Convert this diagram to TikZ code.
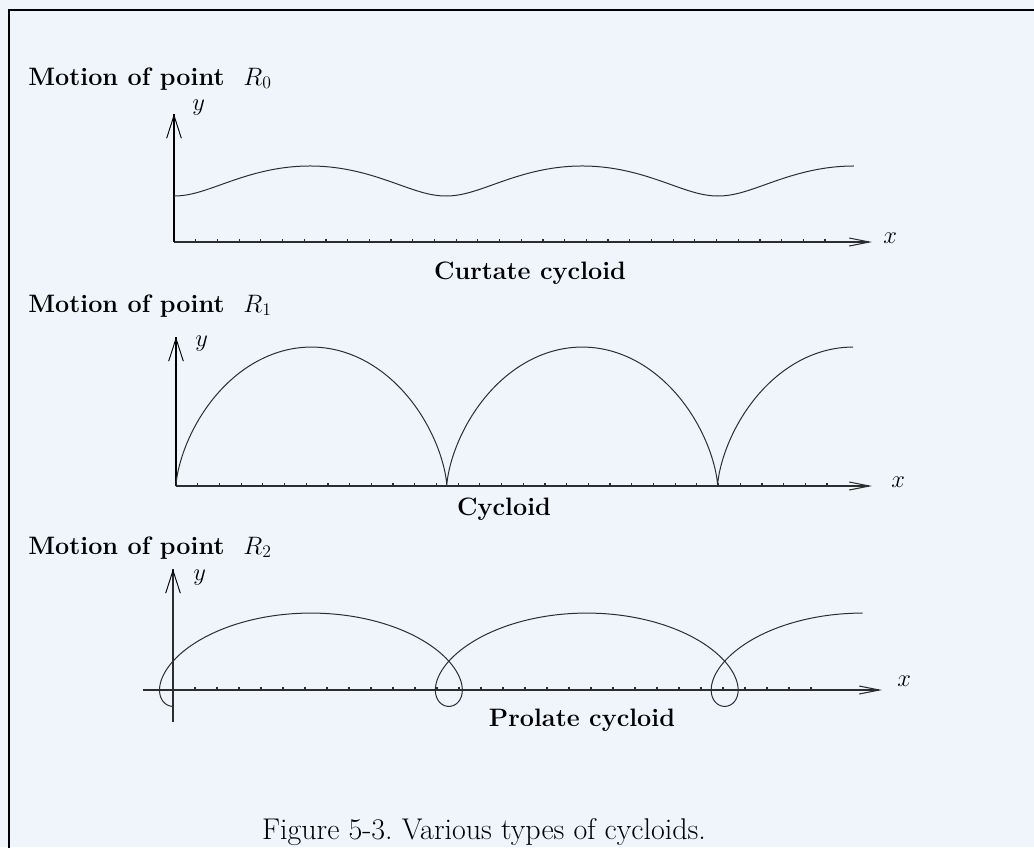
\RequirePackage{fix-cm}
\documentclass[tikz,border=0pt]{standalone}
\usetikzlibrary{arrows.meta}
\definecolor{bg}{RGB}{240,245,252}
\definecolor{ink}{RGB}{45,45,45}
\begin{document}
\begin{tikzpicture}[x=0.75pt,y=-0.75pt,
  lab/.style={font=\fontsize{18.9}{22}\selectfont\bfseries, inner sep=0pt},
  mlab/.style={font=\fontsize{18.4}{22}\selectfont, inner sep=0pt},
  capt/.style={font=\fontsize{22.5}{26}\selectfont, inner sep=0pt},
  xaxis/.style={draw=ink, line width=1pt, -{Straight Barb[length=15pt,width=6pt,line width=0.8pt]}},
  thickax/.style={draw=black, line width=2.2pt},
  thinax/.style={draw=ink, line width=0.8pt},
  yarrow/.style={draw=black, line width=0.7pt, -{Straight Barb[length=17pt,width=11pt]}},
  curve/.style={draw=ink, line width=0.75pt},
  tickmark/.style={draw=ink, line width=0.9pt}]
\fill[bg] (0,0) rectangle (1034,847);
\useasboundingbox (0,0) rectangle (1034,847);
\draw[black, line width=1.6pt] (1040,10) -- (9,10) -- (9,855);

% ---------- Panel 1: curtate
\coordinate (o1) at (174,242);
\coordinate (x1) at (872,242);
\coordinate (y1) at (174,114);
\foreach \i in {1,...,30} \draw[tickmark] ({174+21.7*\i},242) -- ++(0,-3);
\draw[xaxis] (o1) -- (x1);
\draw[thickax] (o1) -- (y1);
\draw[yarrow] ([yshift=-4pt]y1) -- (y1);
\draw[curve] plot[domain=0:5*pi, samples=300, variable=\t]
  ({174+43.3*\t-10.65*sin(\t r)},{242-1.409*(43.3-10.65*cos(\t r))});
\node[mlab, anchor=base west] (ly1) at (192,110) {$y$};
\node[mlab, anchor=base west] (lx1) at (883,243) {$x$};
\node[lab, anchor=base west] (t1) at (28,85) {Motion of point\hspace{0.75em}$R_0$};
\node[lab, anchor=base] (c1) at (530,279) {Curtate cycloid};

% ---------- Panel 2: cycloid
\coordinate (o2) at (176,486);
\coordinate (x2) at (872,486);
\coordinate (y2) at (176,337);
\foreach \i in {1,...,30} \draw[tickmark] ({176+21.7*\i},486) -- ++(0,-3);
\draw[xaxis] (o2) -- (x2);
\draw[thickax] (o2) -- (y2);
\draw[yarrow] ([yshift=-4pt]y2) -- (y2);
\draw[curve] plot[domain=0:5*pi, samples=400, variable=\t]
  ({176+43.1*\t-43.1*sin(\t r)},{486-1.612*(43.1-43.1*cos(\t r))});
\node[mlab, anchor=base west] (ly2) at (195,346) {$y$};
\node[mlab, anchor=base west] (lx2) at (891,487) {$x$};
\node[lab, anchor=base west] (t2) at (28,312) {Motion of point\hspace{0.75em}$R_1$};
\node[lab, anchor=base] (c2) at (504,515) {Cycloid};

% ---------- Panel 3: prolate
\coordinate (o3) at (173,690);
\coordinate (xs3) at (143,690);
\coordinate (x3) at (882,690);
\coordinate (yb3) at (173,722);
\coordinate (y3) at (173,569);
\foreach \i in {1,...,29} \draw[tickmark] ({173+22*\i},690) -- ++(0,-3);
\draw[xaxis] (xs3) -- (x3);
\draw[thinax] (yb3) -- (y3);
\draw[yarrow] ([yshift=-4pt]y3) -- (y3);
\draw[curve] plot[domain=0:5*pi, samples=400, variable=\t]
  ({173+43.9*\t-67.6*sin(\t r)},{690-0.69*(43.9-67.6*cos(\t r))});
\node[mlab, anchor=base west] (ly3) at (193,580) {$y$};
\node[mlab, anchor=base west] (lx3) at (897,686) {$x$};
\node[lab, anchor=base west] (t3) at (28,554) {Motion of point\hspace{0.75em}$R_2$};
\node[lab, anchor=base] (c3) at (582,726) {Prolate cycloid};

% ---------- Caption
\node[capt, anchor=base] (cap) at (484,839) {Figure 5-3.\ Various types of cycloids.};
\end{tikzpicture}
\end{document}
